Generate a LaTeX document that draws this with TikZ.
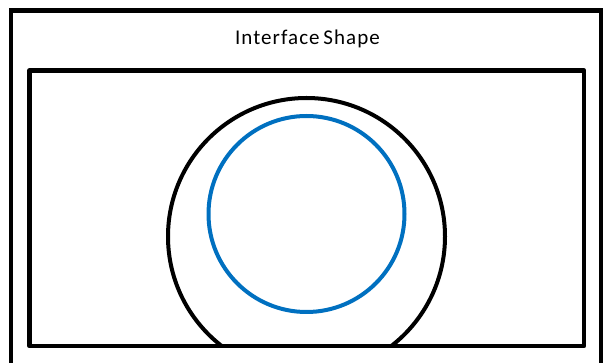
\documentclass[tikz,border=0pt]{standalone}
\usepackage{fontspec}
\setmainfont{Carlito}
\usetikzlibrary{positioning}
\definecolor{ringblue}{HTML}{0070C0}
\tikzset{
    frame/.style={
        draw=black,
        line width=4.5pt
    },
    panel/.style={
        draw=black,
        line width=4.5pt,
        line join=round
    },
    ring/.style={
        draw=black,
        line width=4pt
    },
    core/.style={
        draw=ringblue,
        line width=4pt
    },
    caption/.style={
        font=\fontsize{21}{25}\selectfont\addfontfeature{LetterSpace=5},
        inner sep=0pt,
        anchor=base
    }
}
\begin{document}
\begin{tikzpicture}[x=1pt, y=-1pt]

\useasboundingbox (0,0) rectangle (603,363);
\clip (0,0) rectangle (603,363);

% outer frame and title
\draw[frame] (11,10.5) rectangle (601,366);
\node[caption] (title) at (307.5,44.3) {Interface\hspace{-2pt} Shape};

% inner panel
\coordinate (panelnw) at (29.5,70.5);
\coordinate (panelse) at (584,346);
\coordinate (ringc) at (306.5,236.5);
\coordinate (corec) at (306.5,214);

\begin{scope}
    \clip (panelnw) rectangle (panelse);
    \draw[ring] (ringc) circle[radius=138.5];
\end{scope}
\draw[core] (corec) circle[radius=98];
\draw[panel] (panelnw) rectangle (panelse);

\end{tikzpicture}
\end{document}
